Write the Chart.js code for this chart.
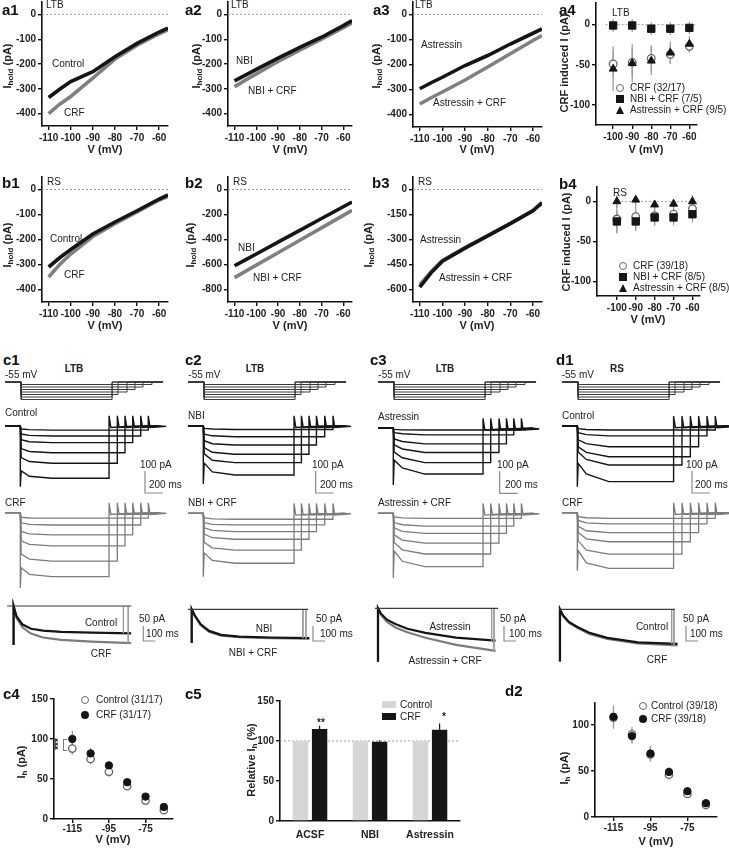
<!DOCTYPE html>
<html>
<head>
<meta charset="utf-8">
<title>CRF and Ih in LTB / RS neurons</title>
<script src="https://cdn.jsdelivr.net/npm/chart.js@4.4.1/dist/chart.umd.min.js"></script>
<style>
  html, body { margin: 0; padding: 0; background: #fff; }
  body { position: relative; width: 729px; height: 849px; overflow: hidden;
         font-family: "Liberation Sans", Arial, Helvetica, sans-serif; color: #222; }
  canvas { position: absolute; }
  .t { position: absolute; white-space: nowrap; font-size: 10px; line-height: 1; }
  .pl { font-size: 15px; font-weight: bold; color: #111; }
  .b { font-weight: bold; }
  .ax { font-size: 11px; font-weight: bold; }
  .ax sub { font-size: 8px; vertical-align: -2px; }
  .mk { position: absolute; box-sizing: border-box; }
</style>
</head>
<body>
<script>
Chart.defaults.font.family = '"Liberation Sans", Arial, Helvetica, sans-serif';
Chart.defaults.color = '#222';

// ---------- a / b : holding current vs voltage ----------
const vIV = [-110, -105, -100, -90, -80, -70, -60, -56];
const ivTicks = [-110, -100, -90, -80, -70, -60];
const a1Control = [-335, -302, -271, -231, -171, -117, -71, -55];
const a1CRF     = [-400, -362, -331, -257, -180, -124, -78, -62];
const a2NBI     = [-268, -245, -222, -176, -133, -92, -45, -25];
const a2NBICRF  = [-292, -265, -240, -190, -144, -100, -54, -34];
const a3Ast     = [-297, -273, -251, -204, -164, -118, -75, -58];
const a3AstCRF  = [-358, -333, -310, -262, -210, -157, -104, -84];
const b1Control = [-310, -273, -240, -178, -130, -85, -38, -22];
const b1CRF     = [-350, -300, -258, -188, -137, -90, -42, -27];
const b2NBI     = [-610, -563, -516, -421, -327, -232, -138, -100];
const b2NBICRF  = [-705, -655, -605, -506, -406, -307, -207, -167];
const b3Ast     = [-586, -500, -430, -352, -278, -205, -128, -80];
const b3AstCRF  = [-572, -492, -425, -349, -276, -203, -126, -79];

// ---------- a4 / b4 : CRF induced current ----------
const vSteps = [-100, -90, -80, -70, -60];
const a4CRF = [-49, -47, -42, -37, -27],   a4CRFErr = [18, 18, 16, 12, 8];
const a4NBI = [-1, -1, -5, -5, -4],        a4NBIErr = [8, 8, 8, 8, 8];
const a4Ast = [-55, -48, -45, -35, -24],   a4AstErr = [28, 24, 18, 14, 10];
const b4CRF = [-22, -19, -18, -16, -9],    b4CRFErr = [18, 16, 12, 12, 10];
const b4NBI = [-25, -25, -20, -20, -16],   b4NBIErr = [14, 12, 10, 10, 10];
const b4Ast = [0, 2, -4, -3, 0],           b4AstErr = [8, 6, 6, 6, 8];

// ---------- c / d : voltage protocol and current sweeps ----------
const protoLevels = [-125, -115, -105, -95, -85, -75, -65];   // mV, deepest first
const protoOnset = 180;
const protoEnds = [1190, 1190, 1256, 1356, 1444, 1533, 1633]; // ms
const protoStop = 1756;

const traceOnset = 170;
const relaxT = [10, 100, 350];          // ms after onset: instantaneous, early, steady
const endSpike = 45;                     // pA, capacitive transient at step end
const tailT = [20, 200], tailI = [-8, -3];

// step end per sweep, shallowest sweep first (deepest ends earliest)
const c1Ends = [1592, 1508, 1419, 1333, 1248, 1156], c1Stop = 1700;
const c2Ends = [1611, 1519, 1427, 1344, 1260, 1178], c2Stop = 1741;
const c3Ends = [1593, 1508, 1427, 1344, 1252, 1167], c3Stop = 1722;
const d1Ends = [1703, 1611, 1518, 1426, 1333, 1240], d1Stop = 1851;

// per sweep: [instantaneous, early, steady state] current (pA, baseline 0)
const c1Control = [[-15,-18,-20],[-38,-44,-47],[-64,-73,-77],[-104,-117,-123],[-145,-163,-171],[-205,-230,-239]];
const c1CRF     = [[-20,-24,-25],[-46,-53,-56],[-85,-96,-101],[-128,-144,-151],[-188,-211,-220],[-250,-280,-291]];
const c2NBI     = [[-12,-15,-17],[-38,-46,-50],[-68,-82,-88],[-100,-121,-130],[-128,-157,-168],[-170,-210,-224]];
const c2NBICRF  = [[-20,-25,-27],[-42,-50,-53],[-66,-78,-83],[-94,-111,-118],[-132,-157,-167],[-180,-214,-227]];
const c3Ast     = [[-5,-7,-8],[-20,-25,-30],[-48,-60,-71],[-75,-94,-110],[-108,-134,-156],[-145,-180,-208]];
const c3AstCRF  = [[-16,-21,-23],[-42,-52,-58],[-66,-82,-91],[-98,-122,-136],[-133,-166,-185],[-172,-218,-242]];
const d1Control = [[-12,-16,-18],[-30,-39,-45],[-63,-80,-94],[-95,-120,-140],[-118,-152,-177],[-170,-218,-253]];
const d1CRF     = [[-18,-23,-26],[-35,-46,-51],[-62,-82,-91],[-90,-119,-132],[-128,-170,-188],[-172,-228,-253]];
// onset transient of the deepest sweep [control, drug]
const c1Spike = [-277, -342], c2Spike = [-265, -288], c3Spike = [-258, -294], d1Spike = [-276, -264];

// superimposed Ih relaxations
const ovT = [0, 25, 75, 145, 245, 395, 650, 980];
const c1OvControl = [0, -35, -62, -76, -82, -86, -89, -91];
const c1OvCRF     = [0, -40, -72, -92, -105, -113, -119, -124];
const c2OvNBI     = [0, -20, -50, -72, -85, -91, -94, -96];
const c2OvNBICRF  = [0, -22, -53, -75, -88, -93, -96, -98];
const c3OvAst     = [0, -18, -38, -52, -68, -82, -98, -108];
const c3OvAstCRF  = [0, -22, -45, -64, -80, -98, -122, -142];
const d1OvControl = [0, -20, -42, -59, -78, -95, -110, -115];
const d1OvCRF     = [0, -22, -45, -62, -82, -99, -114, -120];
const ovStart = [-130, -112, -178, -174];
const ovPeakT = [55, 31, 25, 8];
const ovLineEnd = [1036, 1000, 1025, 967];
const ovArrowT = [[970, 1010], [958, 983], [972, 992], [939, 958]];

// ---------- c4 / c5 / d2 ----------
const vIh = [-115, -105, -95, -85, -75, -65];
const c4Control = [88, 75, 59, 41, 23, 11], c4ControlErr = [8, 7, 6, 4, 3, 3];
const c4CRF     = [100, 82, 67, 46, 28, 15], c4CRFErr = [10, 7, 5, 3, 3, 3];
const d2Control = [108, 90, 68, 46, 25, 13], d2ControlErr = [12, 8, 8, 5, 4, 3];
const d2CRF     = [109, 88, 69, 49, 28, 15], d2CRFErr = [12, 8, 8, 5, 4, 3];
const c5Groups = ['ACSF', 'NBI', 'Astressin'];
const c5Control = [100, 100, 100];
const c5CRF = [115, 99, 114], c5CRFErr = [4, 2, 8];

const BLACK = '#151515', GRAY = '#7c7c7c';

// ---------- helpers ----------
function makeCanvas(x, y, w, h) {
  const c = document.createElement('canvas');
  c.width = Math.round(w); c.height = Math.round(h);
  c.style.left = x + 'px'; c.style.top = y + 'px';
  c.style.width = Math.round(w) + 'px'; c.style.height = Math.round(h) + 'px';
  document.body.appendChild(c);
  return c;
}

function txt(html, x, y, cls = '', align = 'left', rot = false) {
  const d = document.createElement('div');
  d.className = 't ' + cls;
  d.innerHTML = html;
  d.style.left = x + 'px'; d.style.top = y + 'px';
  const tx = align === 'center' ? '-50%' : align === 'right' ? '-100%' : '0';
  d.style.transform = `translate(${tx},-50%)` + (rot ? ' rotate(-90deg)' : '');
  document.body.appendChild(d);
}

function marker(kind, x, y) {
  const d = document.createElement('div');
  d.className = 'mk';
  if (kind === 'open') Object.assign(d.style, { width: '8px', height: '8px', border: '1.3px solid #666', borderRadius: '50%', background: '#fff' });
  if (kind === 'dot') Object.assign(d.style, { width: '8px', height: '8px', borderRadius: '50%', background: BLACK });
  if (kind === 'square') Object.assign(d.style, { width: '8px', height: '8px', background: BLACK });
  if (kind === 'tri') Object.assign(d.style, { width: '0', height: '0', borderLeft: '4.5px solid transparent', borderRight: '4.5px solid transparent', borderBottom: '8px solid ' + BLACK });
  if (kind === 'boxG') Object.assign(d.style, { width: '14px', height: '7px', background: '#d6d6d6' });
  if (kind === 'boxK') Object.assign(d.style, { width: '14px', height: '7px', background: BLACK });
  const w = kind.startsWith('box') ? 14 : 9;
  d.style.left = (x - w / 2) + 'px';
  d.style.top = (y - (kind.startsWith('box') ? 3.5 : 4)) + 'px';
  document.body.appendChild(d);
}

const pts = (xs, ys) => xs.map((x, i) => ({ x, y: ys[i] }));
const line = (data, color, width, extra = {}) =>
  Object.assign({ data, showLine: true, borderColor: color, borderWidth: width, pointRadius: 0, fill: false }, extra);

const errorBarPlugin = {
  id: 'errorBars',
  beforeDatasetsDraw(chart) {
    const { ctx, scales: { y } } = chart;
    chart.data.datasets.forEach((ds, i) => {
      if (!ds.errors) return;
      const meta = chart.getDatasetMeta(i);
      ctx.save();
      ctx.strokeStyle = ds.errorColor || '#8c8c8c';
      ctx.lineWidth = 1.2;
      meta.data.forEach((el, j) => {
        const d = ds.data[j], v = typeof d === 'object' ? d.y : d, e = ds.errors[j];
        ctx.beginPath();
        ctx.moveTo(el.x, y.getPixelForValue(ds.errorUp ? v : v - e));
        ctx.lineTo(el.x, y.getPixelForValue(v + e));
        ctx.stroke();
      });
      ctx.restore();
    });
  },
};

const refLinePlugin = {
  id: 'refLine',
  beforeDatasetsDraw(chart, args, o) {
    if (!o || o.y == null) return;
    const { ctx, chartArea: a, scales: { x, y } } = chart;
    const py = y.getPixelForValue(o.y);
    const x0 = o.x0 != null ? x.getPixelForValue(o.x0) : a.left;
    const x1 = o.x1 != null ? x.getPixelForValue(o.x1) : a.right;
    ctx.save();
    ctx.strokeStyle = '#9a9a9a'; ctx.lineWidth = 1; ctx.setLineDash([2, 2]);
    ctx.beginPath(); ctx.moveTo(x0, py); ctx.lineTo(x1, py); ctx.stroke();
    ctx.restore();
  },
};

// scale bar: vertical dy (y units) and horizontal dx (x units), corner at canvas px
const scaleBarPlugin = {
  id: 'scaleBar',
  afterDatasetsDraw(chart, args, o) {
    if (!o || o.dx == null) return;
    const { ctx, scales: { x, y } } = chart;
    const w = Math.abs(x.getPixelForValue(o.dx) - x.getPixelForValue(0));
    const h = Math.abs(y.getPixelForValue(o.dy) - y.getPixelForValue(0));
    ctx.save();
    ctx.strokeStyle = '#8a8a8a'; ctx.lineWidth = 1.2;
    ctx.beginPath();
    ctx.moveTo(o.cx, o.cy - h); ctx.lineTo(o.cx, o.cy); ctx.lineTo(o.cx + w, o.cy);
    ctx.stroke();
    ctx.restore();
  },
};

function axisScale(cfg, fit) {
  const s = {
    type: cfg.type || 'linear', min: cfg.min, max: cfg.max, bounds: 'data', offset: !!cfg.offset,
    border: { display: true, color: '#111', width: 1.6 },
    grid: { display: cfg.noTicks ? false : true, drawOnChartArea: false, drawTicks: true, tickLength: 4, color: '#111', lineWidth: 1.4 },
    ticks: { color: '#222', font: { size: cfg.fs || 10, weight: 'bold' }, padding: cfg.pad != null ? cfg.pad : 2,
             autoSkip: false, maxRotation: 0, minRotation: 0 },
    afterFit: fit,
  };
  if (cfg.ticks) s.afterBuildTicks = sc => { sc.ticks = cfg.ticks.map(v => ({ value: v })); };
  return s;
}

// box = plot area in page px
function axisChart(box, xCfg, yCfg, datasets, opts = {}) {
  const pad = { l: 44, r: 14, t: 8, b: 18 };
  const c = makeCanvas(box.l - pad.l, box.t - pad.t, box.r - box.l + pad.l + pad.r, box.b - box.t + pad.t + pad.b);
  return new Chart(c, {
    type: opts.type || 'scatter',
    data: { labels: opts.labels, datasets },
    options: {
      responsive: false, animation: false, events: [], devicePixelRatio: 1,
      layout: { padding: { top: pad.t, right: pad.r, left: 0, bottom: 0 } },
      plugins: { legend: { display: false }, tooltip: { enabled: false }, refLine: opts.ref || {} },
      scales: {
        x: axisScale(xCfg, s => { s.height = pad.b; }),
        y: axisScale(yCfg, s => { s.width = pad.l; }),
      },
    },
    plugins: [errorBarPlugin, refLinePlugin],
  });
}

// chart without axes, mapped so that org (page px) is the data origin
function traceChart(box, org, kx, ky, datasets, bar) {
  const c = makeCanvas(box.x, box.y, box.w, box.h);
  const sb = bar ? { dx: bar.dx, dy: bar.dy, cx: bar.at[0] - box.x, cy: bar.at[1] - box.y } : {};
  return new Chart(c, {
    type: 'scatter',
    data: { datasets },
    options: {
      responsive: false, animation: false, events: [], devicePixelRatio: 1,
      layout: { padding: 0 },
      plugins: { legend: { display: false }, tooltip: { enabled: false }, scaleBar: sb },
      scales: {
        x: { type: 'linear', display: false, bounds: 'data', min: (box.x - org[0]) / kx, max: (box.x + box.w - org[0]) / kx },
        y: { type: 'linear', display: false, bounds: 'data', min: (org[1] - box.y - box.h) / ky, max: (org[1] - box.y) / ky },
      },
    },
    plugins: [scaleBarPlugin],
  });
}

// ---------- rows a and b ----------
const ivX = { min: -113, max: -56, ticks: ivTicks };
function ivPanel(box, yCfg, black, gray) {
  axisChart(box, ivX, yCfg, [
    line(pts(vIV, black), BLACK, 3.6),
    line(pts(vIV, gray), '#808080', 3.6),
  ], { ref: { y: 0 } });
}
ivPanel({ l: 42, t: 2, r: 168, b: 126 },   { min: -450, max: 50, ticks: [0, -100, -200, -300, -400] }, a1Control, a1CRF);
ivPanel({ l: 228, t: 2, r: 352, b: 126 },  { min: -450, max: 50, ticks: [0, -100, -200, -300, -400] }, a2NBI, a2NBICRF);
ivPanel({ l: 413, t: 2, r: 542, b: 127 },  { min: -450, max: 50, ticks: [0, -100, -200, -300, -400] }, a3Ast, a3AstCRF);
ivPanel({ l: 42, t: 177, r: 168, b: 302 }, { min: -450, max: 50, ticks: [0, -100, -200, -300, -400] }, b1Control, b1CRF);
ivPanel({ l: 228, t: 177, r: 352, b: 302 },{ min: -900, max: 100, ticks: [0, -200, -400, -600, -800] }, b2NBI, b2NBICRF);
ivPanel({ l: 413, t: 177, r: 542, b: 302 },{ min: -675, max: 75, ticks: [0, -150, -300, -450, -600] }, b3Ast, b3AstCRF);

function stepPanel(box, xCfg, yCfg, crf, crfErr, nbi, nbiErr, ast, astErr, ref) {
  const common = { showLine: false, clip: false, errorColor: '#9a9a9a' };
  axisChart(box, xCfg, yCfg, [
    Object.assign({ data: pts(vSteps, ast), errors: astErr, pointStyle: 'triangle', pointRadius: 4.6, backgroundColor: BLACK, borderColor: BLACK, borderWidth: 1 }, common),
    Object.assign({ data: pts(vSteps, nbi), errors: nbiErr, pointStyle: 'rect', pointRadius: 5.2, backgroundColor: BLACK, borderColor: BLACK, borderWidth: 1 }, common),
    Object.assign({ data: pts(vSteps, crf), errors: crfErr, pointStyle: 'circle', pointRadius: 3.8, backgroundColor: '#fff', borderColor: '#666', borderWidth: 1.3 }, common),
  ], { ref });
}
stepPanel({ l: 596, t: 3, r: 697, b: 125 }, { min: -109, max: -56, ticks: vSteps }, { min: -125, max: 27, ticks: [0, -50, -100] },
  a4CRF, a4CRFErr, a4NBI, a4NBIErr, a4Ast, a4AstErr, { y: 0, x0: -104, x1: -57 });
stepPanel({ l: 597, t: 187, r: 700, b: 296 }, { min: -110.5, max: -56, ticks: vSteps }, { min: -118, max: 18, ticks: [0, -50, -100] },
  b4CRF, b4CRFErr, b4NBI, b4NBIErr, b4Ast, b4AstErr, { y: 0, x0: -100, x1: -57 });

// ---------- c / d traces ----------
function protoSweeps() {
  return protoLevels.map((lv, i) => line([
    { x: 0, y: -55 }, { x: protoOnset, y: -55 }, { x: protoOnset, y: lv },
    { x: protoEnds[i], y: lv }, { x: protoEnds[i], y: -55 }, { x: protoStop, y: -55 },
  ], '#3a3a3a', 1));
}
function sweepPoints(v, i, ends, stop, spike) {
  const [inst, mid, ss] = v[i];
  const on = traceOnset, e = ends[i];
  const p = [{ x: 0, y: 0 }, { x: on, y: 0 }];
  if (spike != null) p.push({ x: on, y: spike });
  p.push({ x: on + relaxT[0], y: inst }, { x: on + relaxT[1], y: mid }, { x: on + relaxT[2], y: ss },
         { x: e, y: ss }, { x: e, y: endSpike }, { x: e + tailT[0], y: tailI[0] },
         { x: e + tailT[1], y: tailI[1] }, { x: stop, y: 0 });
  return p;
}
function sweepSet(v, ends, stop, spike, color, w) {
  return v.map((_, i) => line(sweepPoints(v, i, ends, stop, i === v.length - 1 ? spike : null), color, w));
}

const columns = [
  { x0: 5,     yTop: 425.7, yBot: 512.7, ctrl: c1Control, drug: c1CRF,    ends: c1Ends, stop: c1Stop, spike: c1Spike,
    bar: [145, 493],   ov: [6.7, 606],   ovBar: [143, 641], ovA: c1OvControl, ovB: c1OvCRF },
  { x0: 188.3, yTop: 425.7, yBot: 513.3, ctrl: c2NBI,     drug: c2NBICRF, ends: c2Ends, stop: c2Stop, spike: c2Spike,
    bar: [316, 493],   ov: [188, 609.3], ovBar: [313, 641], ovA: c2OvNBI, ovB: c2OvNBICRF },
  { x0: 378.3, yTop: 428.3, yBot: 513.3, ctrl: c3Ast,     drug: c3AstCRF, ends: c3Ends, stop: c3Stop, spike: c3Spike,
    bar: [500, 493.3], ov: [375, 608.3], ovBar: [504, 641], ovA: c3OvAst, ovB: c3OvAstCRF },
  { x0: 561.7, yTop: 426,   yBot: 512.7, ctrl: d1Control, drug: d1CRF,    ends: d1Ends, stop: d1Stop, spike: d1Spike,
    bar: [691.7, 493], ov: [559, 609.3], ovBar: [686, 641], ovA: d1OvControl, ovB: d1OvCRF },
];

const kxT = 0.09, kyT = 0.22, kyP = 0.25, kxO = 0.12, kyO = 0.3;
columns.forEach((col, k) => {
  // protocol: -55 mV sits at page y 382
  traceChart({ x: col.x0 - 2, y: 374, w: 184, h: 30 }, [col.x0, 382 - 55 * kyP], kxT, kyP, protoSweeps());
  traceChart({ x: col.x0 - 2, y: 404, w: 190, h: 96 }, [col.x0, col.yTop], kxT, kyT,
    sweepSet(col.ctrl, col.ends, col.stop, col.spike[0], BLACK, 1.4),
    { dx: 200, dy: 100, at: col.bar });
  traceChart({ x: col.x0 - 2, y: 495, w: 190, h: 102 }, [col.x0, col.yBot], kxT, kyT,
    sweepSet(col.drug, col.ends, col.stop, col.spike[1], GRAY, 1.3));

  // superimposed relaxations
  const tP = ovPeakT[k];
  const ovLine = ys => [{ x: tP, y: ovStart[k] }].concat(ovT.map((t, i) => ({ x: tP + t, y: ys[i] })));
  const aT = ovArrowT[k];
  traceChart({ x: col.ov[0] - 3, y: 598, w: 172, h: 70 }, col.ov, kxO, kyO, [
    line([{ x: 0, y: 0 }, { x: ovLineEnd[k], y: 0 }], '#3a3a3a', 1.2),
    line([{ x: aT[0], y: 0 }, { x: aT[0], y: col.ovA[col.ovA.length - 1] }], '#9a9a9a', 1),
    line([{ x: aT[1], y: 0 }, { x: aT[1], y: col.ovB[col.ovB.length - 1] }], '#9a9a9a', 1),
    line(ovLine(col.ovA), BLACK, 2.2),
    line(ovLine(col.ovB), GRAY, 2.2),
  ], { dx: 100, dy: 50, at: col.ovBar });
});

// ---------- bottom row ----------
function ihPanel(box, xCfg, yCfg, ctrl, ctrlErr, crf, crfErr) {
  axisChart(box, xCfg, yCfg, [
    { data: pts(vIh, crf), errors: crfErr, errorColor: '#8a8a8a', showLine: false, clip: false, pointStyle: 'circle', pointRadius: 3.7, backgroundColor: BLACK, borderColor: BLACK, borderWidth: 1 },
    { data: pts(vIh, ctrl), errors: ctrlErr, errorColor: '#9a9a9a', showLine: false, clip: false, pointStyle: 'circle', pointRadius: 3.7, backgroundColor: '#fff', borderColor: '#666', borderWidth: 1.3 },
  ]);
}
ihPanel({ l: 54, t: 699, r: 173, b: 819 }, { min: -125, max: -60, ticks: [-115, -95, -75], pad: 0 }, { min: 0, max: 150, ticks: [0, 50, 100, 150] },
  c4Control, c4ControlErr, c4CRF, c4CRFErr);
ihPanel({ l: 595, t: 703, r: 717, b: 817 }, { min: -125, max: -59, ticks: [-115, -95, -75], pad: 1 }, { min: 0, max: 124, ticks: [0, 50, 100] },
  d2Control, d2ControlErr, d2CRF, d2CRFErr);

axisChart({ l: 280, t: 701, r: 460, b: 821 },
  { type: 'category', offset: true, noTicks: true, fs: 10.5, pad: 4 },
  { min: 0, max: 150, ticks: [0, 50, 100, 150] }, [
    { data: c5Control, backgroundColor: '#d6d6d6', borderWidth: 0, categoryPercentage: 0.64, barPercentage: 0.8 },
    { data: c5CRF, errors: c5CRFErr, errorUp: true, errorColor: BLACK, backgroundColor: BLACK, borderWidth: 0, categoryPercentage: 0.64, barPercentage: 0.8 },
  ], { type: 'bar', labels: c5Groups, ref: { y: 100 } });

// ---------- text ----------
[['a1', 2, 9], ['a2', 185, 9], ['a3', 373, 9], ['a4', 559, 9],
 ['b1', 2, 182], ['b2', 185, 182], ['b3', 372, 182], ['b4', 559, 183],
 ['c1', 3, 359], ['c2', 185, 359], ['c3', 370, 359], ['d1', 556, 359],
 ['c4', 3, 693], ['c5', 185, 693], ['d2', 505, 690]].forEach(([s, x, y]) => txt(s, x, y, 'pl'));

[[46, 5], [231, 5], [415, 5], [612, 13]].forEach(([x, y]) => txt('LTB', x, y));
[[47, 182], [233, 182], [418, 182], [613, 193]].forEach(([x, y]) => txt('RS', x, y));

const ihold = 'I<sub>hold</sub> (pA)';
[[8, 66], [197, 66], [377, 66], [8, 245], [191, 245], [369, 245]].forEach(([x, y]) => txt(ihold, x, y, 'ax', 'center', true));
txt('CRF induced I (pA)', 564, 63, 'ax', 'center', true);
txt('CRF induced I (pA)', 566, 242, 'ax', 'center', true);
[[105, 149], [290, 149], [477, 149], [646, 149], [105, 325], [290, 325], [477, 325], [648, 319], [113, 839], [656, 841]]
  .forEach(([x, y]) => txt('V (mV)', x, y, 'ax', 'center'));

txt('Control', 52, 64); txt('CRF', 64, 113);
txt('NBI', 236, 61); txt('NBI + CRF', 248, 91);
txt('Astressin', 421, 45); txt('Astressin + CRF', 433, 103);
txt('Control', 50, 239); txt('CRF', 64, 275);
txt('NBI', 238, 248); txt('NBI + CRF', 253, 278);
txt('Astressin', 420, 240); txt('Astressin + CRF', 439, 278);

// legends a4 / b4
[['tri', 110, 'Astressin + CRF (9/5)'], ['square', 99, 'NBI + CRF (7/5)'], ['open', 88, 'CRF (32/17)']]
  .forEach(([k, y, s]) => { marker(k, 620, y); txt(s, 630, y); });
[['tri', 288, 'Astressin + CRF (8/5)'], ['square', 277, 'NBI + CRF (8/5)'], ['open', 266, 'CRF (39/18)']]
  .forEach(([k, y, s]) => { marker(k, 623, y); txt(s, 633, y); });

// c / d headers and trace labels
[[74, 'LTB'], [255, 'LTB'], [445, 'LTB'], [617, 'RS']].forEach(([x, s]) => txt(s, x, 369, 'b', 'center'));
[5, 188.3, 378.3, 561.7].forEach(x => txt('-55 mV', x, 375));
txt('Control', 5, 413); txt('CRF', 5, 503);
txt('NBI', 188, 416); txt('NBI + CRF', 188, 503);
txt('Astressin', 378, 417); txt('Astressin + CRF', 378, 503);
txt('Control', 562, 416); txt('CRF', 562, 503);
[[140, 149], [312, 320], [497, 505], [686, 695]].forEach(([a, b]) => { txt('100 pA', a, 465); txt('200 ms', b, 485); });
[[139, 146], [316, 320], [500, 509], [683, 690]].forEach(([a, b]) => { txt('50 pA', a, 619); txt('100 ms', b, 634); });
txt('Control', 101, 623, '', 'center'); txt('CRF', 101, 654, '', 'center');
txt('NBI', 264, 629, '', 'center'); txt('NBI + CRF', 253, 653, '', 'center');
txt('Astressin', 450, 627, '', 'center'); txt('Astressin + CRF', 445, 661, '', 'center');
txt('Control', 652, 627, '', 'center'); txt('CRF', 657, 660, '', 'center');

// bottom row labels
txt('I<sub>h</sub> (pA)', 22, 762, 'ax', 'center', true);
txt('Relative I<sub>h</sub> (%)', 252, 760, 'ax', 'center', true);
txt('I<sub>h</sub> (pA)', 565, 768, 'ax', 'center', true);
marker('open', 85, 700); txt('Control (31/17)', 96, 700, '', 'left');
marker('dot', 85, 715); txt('CRF (31/17)', 96, 715, '', 'left');
marker('open', 643, 706); txt('Control (39/18)', 651, 706, '', 'left');
marker('dot', 643, 719); txt('CRF (39/18)', 651, 719, '', 'left');
marker('boxG', 389, 704.5); txt('Control', 400, 704.5);
marker('boxK', 389, 716.5); txt('CRF', 400, 716.5);
txt('**', 321, 723, 'b', 'center');
txt('*', 444, 717, 'b', 'center');
txt('***', 59, 744, 'b', 'center', true);
const br = document.createElement('div');
Object.assign(br.style, { position: 'absolute', left: '63px', top: '739px', width: '3px', height: '10px', border: '1px solid #777', borderRight: 'none' });
document.body.appendChild(br);
</script>
</body>
</html>
